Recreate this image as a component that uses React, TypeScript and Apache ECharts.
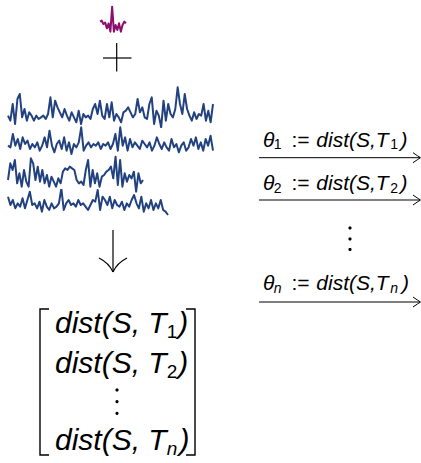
import React, { useEffect, useRef } from "react";
import * as echarts from "echarts";

// ---- data ----
const queryValues = [40, 43, 33, 37, 20, 35, 10, 85, 10, 30, 15, 35, 10, 30, 40, 35];

const series1Values = [35, 20, 70, 10, 85, 100, 30, 55, 20, 45, 35, 20, 35, 25, 30, 35, 25, 40, 90, 30, 80, 60, 45, 30, 55, 35, 20, 45, 30, 15, 50, 10, 40, 30, 35, 25, 55, 70, 40, 80, 35, 25, 70, 30, 75, 20, 40, 30, 15, 45, 50, 60, 45, 30, 40, 85, 45, 60, 30, 25, 70, 90, 10, 50, 35, 0, 80, 20, 70, 40, 30, 55, 120, 70, 40, 100, 55, 35, 20, 45, 25, 40, 35, 70, 20, 50, 15, 70];

const series2Values = [30, 25, 65, 30, 50, 20, 55, 35, 45, 20, 35, 25, 40, 15, 30, 55, 25, 75, 30, 10, 35, 45, 20, 55, 15, 40, 5, 35, 25, 40, 85, 15, 30, 40, 25, 35, 30, 40, 20, 35, 30, 40, 20, 35, 65, 15, 85, 30, 55, 15, 50, 25, 40, 30, 20, 45, 35, 25, 40, 15, 30, 55, 35, 20, 40, 25, 15, 50, 25, 35, 10, 30, 40, 15, 25, 50, 30, 55, 20, 40, 15, 50, 30, 60, 15];

const series3Values = [40, 90, 70, 100, 30, 60, 20, 70, 35, 20, 105, 90, 40, 80, 35, 70, 30, 55, 20, 50, 35, 20, 45, 30, 65, 75, 70, 80, 75, 70, 40, 30, 35, 25, 70, 100, 20, 70, 30, 60, 20, 50, 55, 65, 70, 80, 45, 110, 25, 100, 20, 60, 35, 55, 45, 65, 5, 60, 30, 40];

const series4Values = [60, 35, 50, 25, 40, 30, 55, 25, 50, 75, 35, 40, 25, 45, 15, 50, 30, 20, 40, 25, 30, 40, 85, 20, 40, 50, 35, 40, 30, 50, 35, 40, 30, 20, 35, 50, 45, 80, 20, 60, 50, 35, 60, 25, 50, 35, 30, 45, 20, 40, 30, 50, 65, 40, 25, 60, 15, 40, 25, 50, 20, 40, 25, 50, 20, 15, 5];

const matrixSubs = ["1", "2", "n"];
const arrowSubs = ["1", "2", "n"];

const BLUE = "#22427f";
const PURPLE = "#8c0f6b";
const FONT = "'Liberation Sans', Arial, Helvetica, sans-serif";

type Piece = { t: string; dx: number; sub?: boolean; it?: boolean };

function buildText(pieces: Piece[], x0: number, baseline: number, size: number, subSize: number, subDy: number) {
  return pieces.map((p) => {
    const fs = p.sub ? subSize : size;
    const italic = p.it || (p.sub && !/^[0-9]$/.test(p.t));
    const base = baseline + (p.sub ? subDy : 0);
    return {
      type: "text",
      x: x0 + p.dx,
      y: base - 0.3467 * fs,
      silent: true,
      style: {
        text: p.t,
        fill: "#000",
        font: `${italic ? "italic " : ""}${fs}px ${FONT}`,
        align: "left",
        verticalAlign: "middle",
      },
    };
  });
}

function rightPieces(sub: string): Piece[] {
  return [
    { t: "θ", dx: 0, it: true },
    { t: sub, dx: 10.7, sub: true },
    { t: ":=", dx: 28.5 },
    { t: "dist(S,T", dx: 53.3, it: true },
    { t: sub, dx: 127.3, sub: true },
    { t: ")", dx: sub === "n" ? 139 : 137.5, it: true },
  ];
}

function matrixPieces(sub: string): Piece[] {
  return [
    { t: "dist(S, T", dx: 0, it: true },
    { t: sub, dx: 111.7, sub: true },
    { t: ")", dx: sub === "n" ? 124.5 : 123.3, it: true },
  ];
}

function rightArrow(y: number) {
  return [
    { type: "line", silent: true, shape: { x1: 259, y1: y, x2: 420, y2: y }, style: { stroke: "#000", lineWidth: 1 } },
    { type: "bezierCurve", silent: true, shape: { x1: 413, y1: y - 5, x2: 420.5, y2: y, cpx1: 418, cpy1: y - 1.5 }, style: { stroke: "#000", lineWidth: 1, fill: "none" } },
    { type: "bezierCurve", silent: true, shape: { x1: 413, y1: y + 5, x2: 420.5, y2: y, cpx1: 418, cpy1: y + 1.5 }, style: { stroke: "#000", lineWidth: 1, fill: "none" } },
  ];
}

const App: React.FC = () => {
  const ref = useRef<HTMLDivElement>(null);

  useEffect(() => {
    if (!ref.current) return;
    const chart = echarts.init(ref.current, null, { renderer: "svg" });

    const all = [
      { data: queryValues, left: 100, width: 26, top: 0, height: 35, max: 105, color: PURPLE },
      { data: series1Values, left: 8, width: 205, top: 84, height: 43.33, max: 130, color: BLUE },
      { data: series2Values, left: 8, width: 205, top: 125.67, height: 30, max: 90, color: BLUE },
      { data: series3Values, left: 8, width: 135, top: 150, height: 43.33, max: 130, color: BLUE },
      { data: series4Values, left: 8, width: 160, top: 190, height: 26.67, max: 80, color: BLUE },
    ];

    const graphics: any[] = [];
    // plus sign
    graphics.push({ type: "line", silent: true, shape: { x1: 103, y1: 58, x2: 131.5, y2: 58 }, style: { stroke: "#000", lineWidth: 1.2 } });
    graphics.push({ type: "line", silent: true, shape: { x1: 116.7, y1: 43, x2: 116.7, y2: 71.5 }, style: { stroke: "#000", lineWidth: 1.2 } });
    // down arrow
    graphics.push({ type: "line", silent: true, shape: { x1: 113, y1: 230, x2: 113, y2: 271.5 }, style: { stroke: "#000", lineWidth: 1.2 } });
    graphics.push({ type: "bezierCurve", silent: true, shape: { x1: 99, y1: 258, x2: 113, y2: 272, cpx1: 109, cpy1: 263 }, style: { stroke: "#000", lineWidth: 1.2, fill: "none" } });
    graphics.push({ type: "bezierCurve", silent: true, shape: { x1: 127, y1: 258, x2: 113, y2: 272, cpx1: 117, cpy1: 263 }, style: { stroke: "#000", lineWidth: 1.2, fill: "none" } });
    // matrix brackets
    graphics.push({ type: "polyline", silent: true, shape: { points: [[49, 309], [40, 309], [40, 455], [49, 455]] }, style: { stroke: "#000", lineWidth: 1.4, fill: "none" } });
    graphics.push({ type: "polyline", silent: true, shape: { points: [[186, 309], [195, 309], [195, 455], [186, 455]] }, style: { stroke: "#000", lineWidth: 1.4, fill: "none" } });
    // matrix rows
    const matrixBaselines = [333.3, 373.3, 450];
    matrixSubs.forEach((s, i) => {
      graphics.push(...buildText(matrixPieces(s), 55, matrixBaselines[i], 30, 19, 5));
    });
    [390, 401.7, 413.3].forEach((y) => {
      graphics.push({ type: "circle", silent: true, shape: { cx: 117, cy: y, r: 1.6 }, style: { fill: "#000" } });
    });
    // right arrows
    const textBaselines = [146.7, 190, 290];
    const arrowYs = [157.7, 200, 302];
    arrowSubs.forEach((s, i) => {
      graphics.push(...buildText(rightPieces(s), 263, textBaselines[i], 21, 14, 2.5));
      graphics.push(...rightArrow(arrowYs[i]));
    });
    [228, 239, 249.5].forEach((y) => {
      graphics.push({ type: "circle", silent: true, shape: { cx: 350, cy: y, r: 1.6 }, style: { fill: "#000" } });
    });

    chart.setOption({
      animation: false,
      grid: all.map((s) => ({ left: s.left, width: s.width, top: s.top, height: s.height, containLabel: false })),
      xAxis: all.map((s, i) => ({
        type: "category",
        gridIndex: i,
        show: false,
        boundaryGap: false,
        data: s.data.map((_, k) => String(k)),
      })),
      yAxis: all.map((s, i) => ({ type: "value", gridIndex: i, show: false, min: 0, max: s.max })),
      series: all.map((s, i) => ({
        type: "line",
        xAxisIndex: i,
        yAxisIndex: i,
        data: s.data,
        symbol: "none",
        silent: true,
        lineStyle: { color: s.color, width: 2, join: "round" },
      })),
      graphic: graphics,
    });

    return () => chart.dispose();
  }, []);

  return (
    <div
      ref={ref}
      style={{ position: "fixed", left: 0, top: 0, width: 421, height: 463, background: "#fff" }}
    />
  );
};

export default App;
